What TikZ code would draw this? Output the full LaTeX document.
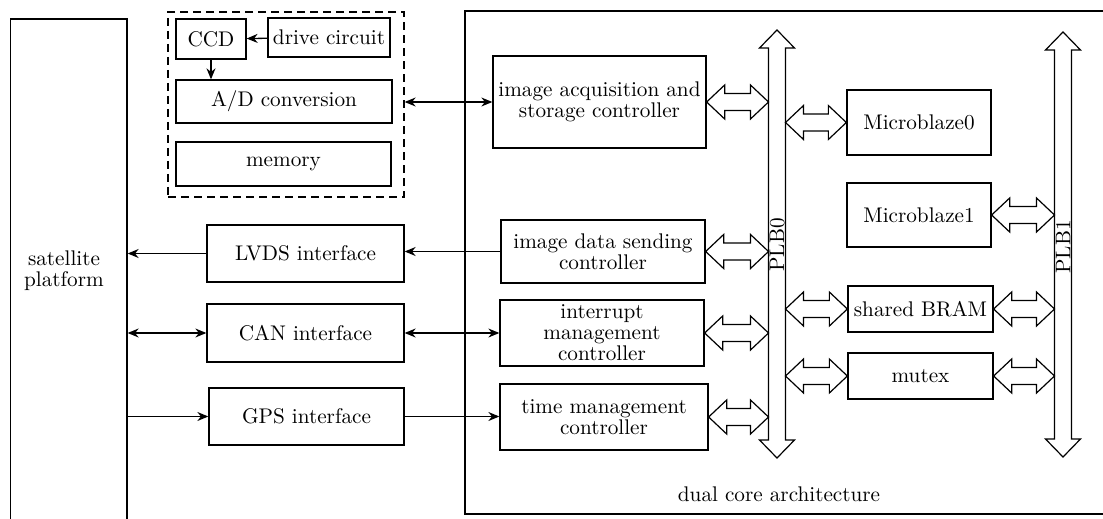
\documentclass[tikz,border=0pt]{standalone}
\usetikzlibrary{arrows.meta,calc}
\tikzset{
 block/.style={draw,line width=.65pt,align=center,inner sep=1pt},
 flow/.style={-{Stealth[length=5.5pt,width=4.5pt]},line width=.65pt},
 flows/.style={{Stealth[length=5.5pt,width=4.5pt]}-{Stealth[length=5.5pt,width=4.5pt]},line width=.65pt},
 bus/.style={draw,line width=.6pt,fill=white,line join=miter}
}
% hollow two-headed arrow, left end #1, right end #2 (same height)
\newcommand\hbus[2]{%
  \draw[bus] #1 -- ($#1+(9pt,8.5pt)$) -- ($#1+(9pt,4.25pt)$) -- ($#2+(-9pt,4.25pt)$) -- ($#2+(-9pt,8.5pt)$) -- #2
    -- ($#2+(-9pt,-8.5pt)$) -- ($#2+(-9pt,-4.25pt)$) -- ($#1+(9pt,-4.25pt)$) -- ($#1+(9pt,-8.5pt)$) -- cycle;}
% upright bus, top tip #1, bottom tip #2
\newcommand\vbus[2]{%
  \draw[bus] #1 -- ($#1+(8.75pt,-9pt)$) -- ($#1+(4.25pt,-9pt)$) -- ($#2+(4.25pt,9pt)$) -- ($#2+(8.75pt,9pt)$) -- #2
    -- ($#2+(-8.75pt,9pt)$) -- ($#2+(-4.25pt,9pt)$) -- ($#1+(-4.25pt,-9pt)$) -- ($#1+(-8.75pt,-9pt)$) -- cycle;}

\begin{document}
\begin{tikzpicture}[x=.5pt,y=-.5pt,font=\fontsize{10.6}{10.5}\selectfont]
  \useasboundingbox (0,0) rectangle (1103,519);
  \clip (0,0) rectangle (1103,519);

  % outer frames
  \node[block,minimum width=58.25pt,minimum height=255.5pt] (sat) at (68.75,274.5) {};
  \node[align=center] (satlabel) at (64,271) {satellite\\platform};
  \node[block,minimum width=332.5pt,minimum height=251.5pt] (dual) at (797.5,262.5) {};
  \node (duallabel) at (779,494) {dual core architecture};
  \node[block,dash pattern=on 4pt off 2.5pt,minimum width=118pt,minimum height=92.5pt] (sensor) at (286,104.5) {};

  % camera head
  \node[block,minimum width=35pt,minimum height=20pt] (ccd) at (211,39) {CCD};
  \node[block,minimum width=61pt,minimum height=19.5pt] (drive) at (329,37.5) {drive circuit};
  \node[block,minimum width=108pt,minimum height=21.5pt] (ad) at (284,101.5) {A/D conversion};
  \node[block,minimum width=107.5pt,minimum height=22pt] (mem) at (283.5,164) {memory};

  % interfaces
  \node[block,minimum width=98.5pt,minimum height=28.5pt] (lvds) at (305.5,253.5) {LVDS interface};
  \node[block,minimum width=98.5pt,minimum height=29pt] (can) at (305.5,333) {CAN interface};
  \node[block,minimum width=97.5pt,minimum height=28.5pt] (gps) at (306.5,416.5) {GPS interface};

  % controllers
  \node[block,minimum width=106.5pt,minimum height=46pt] (acq) at (599.5,102) {image acquisition and\\storage controller};
  \node[block,minimum width=102pt,minimum height=31.5pt] (send) at (603,251.5) {image data sending\\controller};
  \node[block,minimum width=102pt,minimum height=33pt] (intr) at (602,333) {interrupt\\management\\controller};
  \node[block,minimum width=104pt,minimum height=33pt] (time) at (604,417) {time management\\controller};

  \node[block,minimum width=72pt,minimum height=32.5pt] (mb0) at (919,122.5) {Microblaze0};
  \node[block,minimum width=72pt,minimum height=32pt] (mb1) at (919,215) {Microblaze1};
  \node[block,minimum width=72.5pt,minimum height=23pt] (bram) at (920.5,309) {shared BRAM};
  \node[block,minimum width=72.5pt,minimum height=23pt] (mutex) at (920.5,376) {mutex};

  % buses
  \coordinate (plb0t) at (777,30);
  \coordinate (plb0b) at (777,458);
  \coordinate (plb1t) at (1063,32);
  \coordinate (plb1b) at (1063,457);
  \coordinate (plb0w) at ($(plb0t)+(-4.25pt,0)$);
  \coordinate (plb0e) at ($(plb0t)+(4.25pt,0)$);
  \coordinate (plb1w) at ($(plb1t)+(-4.25pt,0)$);
  \vbus{(plb0t)}{(plb0b)}
  \vbus{(plb1t)}{(plb1b)}
  \node[rotate=90] (plb0) at (777,245) {PLB0};
  \node[rotate=90] (plb1) at (1063,247) {PLB1};

  \hbus{(acq.east)}{(acq.east -| plb0w)}
  \hbus{(send.east)}{(send.east -| plb0w)}
  \hbus{(intr.east)}{(intr.east -| plb0w)}
  \hbus{(time.east)}{(time.east -| plb0w)}
  \hbus{(mb0.west -| plb0e)}{(mb0.west)}
  \hbus{(bram.west -| plb0e)}{(bram.west)}
  \hbus{(mutex.west -| plb0e)}{(mutex.west)}
  \hbus{(mb1.east)}{(mb1.east -| plb1w)}
  \hbus{(bram.east)}{(bram.east -| plb1w)}
  \hbus{(mutex.east)}{(mutex.east -| plb1w)}

  % signal lines
  \draw[flow] (drive) -- (ccd);
  \draw[flow] (ccd) -- (ccd.south |- ad.north);
  \draw[flows] (acq.west) -- (acq.west -| sensor.east);
  \draw[flow] (send.west) -- (send.west -| lvds.east);
  \draw[flow] (lvds.west) -- (lvds.west -| sat.east);
  \draw[flows] (can.west -| sat.east) -- (can.west);
  \draw[flows] (can.east) -- (can.east -| intr.west);
  \draw[flow] (gps.west -| sat.east) -- (gps.west);
  \draw[flow] (gps.east) -- (gps.east -| time.west);
\end{tikzpicture}
\end{document}
